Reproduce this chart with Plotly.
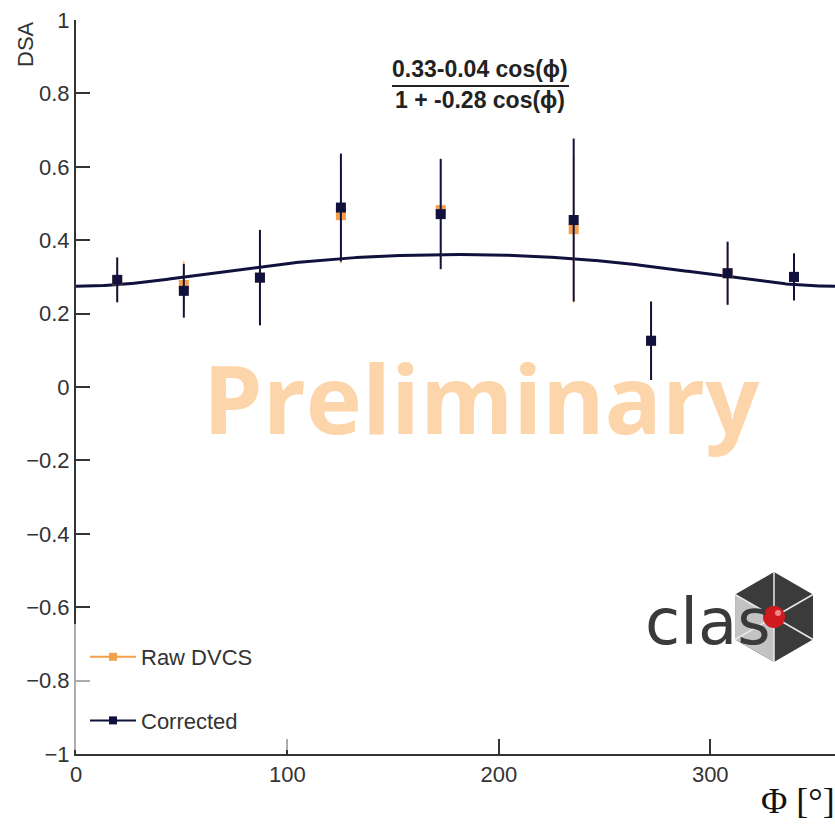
import numpy as np
import plotly.graph_objects as go

# ---- data -------------------------------------------------------------
phi_bins = [19.5, 51.0, 87.0, 125.3, 172.5, 235.4, 272.0, 308.2, 339.6]

raw_dsa = [0.291, 0.278, 0.298, 0.468, 0.482, 0.430, 0.126, 0.310, 0.300]
raw_err = [0.061, 0.064, 0.130, 0.131, 0.141, 0.200, 0.107, 0.085, 0.064]

corr_dsa = [0.292, 0.262, 0.298, 0.489, 0.471, 0.455, 0.126, 0.310, 0.300]
corr_err = [0.061, 0.073, 0.130, 0.147, 0.150, 0.222, 0.107, 0.086, 0.064]

# fit parameters shown in the formula label
fit_a = 0.33
fit_b = -0.04
fit_c = -0.28

x_ticks = [0, 100, 200, 300]
y_ticks = [-1, -0.8, -0.6, -0.4, -0.2, 0, 0.2, 0.4, 0.6, 0.8, 1]

NAVY = "#11113d"
ORANGE = "#f4a04a"
AXIS = "#333333"

# ---- figure geometry (pixels) -----------------------------------------
W, H = 835, 827
L, R, T, B = 76, 0, 20, 73
PW, PH = W - L - R, H - T - B


def px(xp):
    return (xp - L) / PW


def py(yp):
    return (H - B - yp) / PH


fig = go.Figure()

# fitted curve
phi_fine = np.linspace(0, 360, 721)
cphi = np.cos(np.radians(phi_fine))
fit_curve = fit_a + fit_b * cphi / (1 + fit_c * cphi)
fig.add_trace(go.Scatter(x=phi_fine, y=fit_curve, mode="lines",
                         line=dict(color=NAVY, width=3), showlegend=False,
                         hoverinfo="skip"))

# raw DVCS points
fig.add_trace(go.Scatter(
    x=phi_bins, y=raw_dsa, mode="markers",
    marker=dict(symbol="square", size=10, color=ORANGE),
    error_y=dict(type="data", array=raw_err, color=ORANGE, thickness=1.5, width=0),
    showlegend=False, legendgroup="raw"))

# corrected points
fig.add_trace(go.Scatter(
    x=phi_bins, y=corr_dsa, mode="markers",
    marker=dict(symbol="square", size=10, color=NAVY),
    error_y=dict(type="data", array=corr_err, color=NAVY, thickness=2, width=0),
    showlegend=False, legendgroup="corr"))

# legend entries (line + marker style)
fig.add_trace(go.Scatter(x=[None], y=[None], mode="lines+markers", name="Raw DVCS",
                         line=dict(color=ORANGE, width=2),
                         marker=dict(symbol="square", size=8, color=ORANGE),
                         legendgroup="raw"))
fig.add_trace(go.Scatter(x=[None], y=[None], mode="lines+markers", name="Corrected",
                         line=dict(color=NAVY, width=2),
                         marker=dict(symbol="square", size=8, color=NAVY),
                         legendgroup="corr"))

# ---- CLAS logo ---------------------------------------------------------
cx, cy, rv = 774, 617, 45
hw = rv * np.cos(np.radians(30))
verts = {
    "top": (cx, cy - rv), "ur": (cx + hw, cy - rv / 2), "lr": (cx + hw, cy + rv / 2),
    "bot": (cx, cy + rv), "ll": (cx - hw, cy + rv / 2), "ul": (cx - hw, cy - rv / 2),
}


def path(points):
    return "M " + " L ".join(f"{px(a):.5f},{py(b):.5f}" for a, b in points) + " Z"


hex_pts = [verts[k] for k in ["top", "ur", "lr", "bot", "ll", "ul"]]
fig.add_shape(type="path", xref="paper", yref="paper", path=path(hex_pts),
              fillcolor="#3b3b3b", line=dict(width=0), layer="below")
fig.add_shape(type="path", xref="paper", yref="paper",
              path=path([verts["ul"], (cx, cy), verts["bot"], verts["ll"]]),
              fillcolor="#c3c3c3", line=dict(width=0), layer="below")
for k in verts:
    vx, vy = verts[k]
    fig.add_shape(type="line", xref="paper", yref="paper",
                  x0=px(cx), y0=py(cy), x1=px(vx), y1=py(vy),
                  line=dict(color="#e8e8e8", width=1.5), layer="below")
fig.add_shape(type="circle", xref="paper", yref="paper",
              x0=px(cx - 11), x1=px(cx + 11), y0=py(cy + 11), y1=py(cy - 11),
              fillcolor="#d11a1f", line=dict(width=0), layer="below")
fig.add_shape(type="circle", xref="paper", yref="paper",
              x0=px(cx + 1), x1=px(cx + 7), y0=py(cy - 1), y1=py(cy - 7),
              fillcolor="#f08a8a", line=dict(width=0), layer="below")

# translucent panel behind the legend
fig.add_shape(type="rect", xref="paper", yref="paper",
              x0=px(70), x1=px(292), y0=py(750), y1=py(624),
              fillcolor="rgba(255,255,255,0.6)", line=dict(width=0), layer="above")

annotations = [
    dict(text="clas", x=px(643), y=py(622), xanchor="left", yanchor="middle",
         font=dict(family="DejaVu Sans", size=64, color="#3a3a3a")),
    dict(text="Preliminary", x=px(481), y=py(397), xanchor="center", yanchor="middle",
         font=dict(family="Open Sans", size=95, color="#fdd5ab", weight=700)),
    dict(text=f"<b>{fit_a:.2f}{fit_b:.2f} cos(ϕ)</b>", x=px(480), y=py(69),
         xanchor="center", yanchor="middle",
         font=dict(family="Liberation Sans", size=23, color="#222222")),
    dict(text=f"<b>1 + {fit_c:.2f} cos(ϕ)</b>", x=px(480), y=py(100),
         xanchor="center", yanchor="middle",
         font=dict(family="Liberation Sans", size=23, color="#222222")),
    dict(text="DSA", x=px(25), y=py(44), xanchor="center", yanchor="middle",
         textangle=-90, font=dict(family="Liberation Sans", size=22, color=AXIS)),
    dict(text="Φ [°]", x=px(759), y=py(801), xanchor="left", yanchor="middle",
         font=dict(family="Liberation Serif", size=36, color="#111111")),
]
for a in annotations:
    a.update(xref="paper", yref="paper", showarrow=False)

fig.add_shape(type="line", xref="paper", yref="paper",
              x0=px(392), x1=px(569), y0=py(86), y1=py(86),
              line=dict(color="#222222", width=2))

fig.update_layout(
    width=W, height=H,
    margin=dict(l=L, r=R, t=T, b=B, pad=0),
    paper_bgcolor="white", plot_bgcolor="white",
    annotations=annotations,
    font=dict(family="Liberation Sans", size=22, color=AXIS),
    showlegend=True,
    legend=dict(x=px(85), y=py(636), xanchor="left", yanchor="top",
                bgcolor="rgba(255,255,255,0)", borderwidth=0,
                font=dict(family="Liberation Sans", size=22, color=AXIS),
                itemwidth=46, tracegroupgap=32, traceorder="grouped"),
    xaxis=dict(range=[0, 359], tickvals=x_ticks, showgrid=False, zeroline=False,
               showline=True, linecolor=AXIS, linewidth=2,
               ticks="inside", ticklen=15, tickwidth=2, tickcolor=AXIS,
               tickfont=dict(size=22, color=AXIS)),
    yaxis=dict(range=[-1, 1], tickvals=y_ticks, showgrid=False, zeroline=False,
               showline=True, linecolor=AXIS, linewidth=2,
               ticks="inside", ticklen=14, tickwidth=2, tickcolor=AXIS,
               tickfont=dict(size=22, color=AXIS)),
)

fig.write_html("out.html")
